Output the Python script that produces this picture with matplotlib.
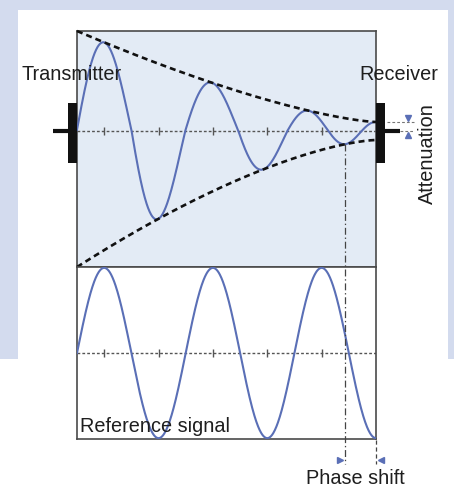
import numpy as np
import matplotlib
matplotlib.use("Agg")
import matplotlib.pyplot as plt
from matplotlib.patches import Rectangle

plt.rcParams["font.family"] = ["Liberation Sans", "DejaVu Sans"]
plt.rcParams["lines.scale_dashes"] = False

# ---- signal description (x measured in cycles of the reference signal) ----
panel_length = 2.75                      # cycles shown across both panels
tick_positions = [0.25, 0.75, 1.25, 1.75, 2.25]

# received wave: positions of its extrema and the phase (in cycles) reached there
recv_pos = [0.0, 0.25, 0.75, 1.25, 1.70, 2.15, 2.465, 2.75]
recv_phase = [0.0, 0.25, 0.75, 1.25, 1.75, 2.25, 2.75, 3.25]

# attenuation envelope: amplitude at transmitter, at receiver, curvature
upper_env = (1.00, 0.09, 1.4)
lower_env = (1.36, 0.09, 1.5)

ref_amplitude = 1.0

labels = {
    "tx": "Transmitter",
    "rx": "Receiver",
    "att": "Attenuation",
    "ref": "Reference signal",
    "phase": "Phase shift",
}

W, H = 454, 488
BG = "#d3dbee"
WAVE = "#5a6fb6"
EDGE = "#4a4a4a"
TXT = "#1e1e1e"

fig = plt.figure(figsize=(W / 100, H / 100), dpi=100)

# background layer in pixel coordinates
bg = fig.add_axes([0, 0, 1, 1], zorder=0)
bg.set_xlim(0, W)
bg.set_ylim(H, 0)
bg.axis("off")
bg.add_patch(Rectangle((0, 0), W, 360, color=BG, lw=0))
bg.add_patch(Rectangle((18, 10), 430, 360, color="white", lw=0))
bg.add_patch(Rectangle((0, 359), W, H - 359, color="white", lw=0))


def panel(top, bottom):
    return fig.add_axes([77 / W, (H - bottom) / H, 299 / W, (bottom - top) / H], zorder=2)


ax_top = panel(31, 267)
ax_bot = panel(267, 439)

for ax in (ax_top, ax_bot):
    ax.set_xlim(0, panel_length)
    ax.set_xticks([])
    ax.set_yticks([])
    for s in ax.spines.values():
        s.set_color(EDGE)
        s.set_linewidth(1.2)

ax_top.set_facecolor("#e3ebf5")
ax_top.set_ylim(-lower_env[0], upper_env[0])
ax_bot.set_facecolor("white")
ax_bot.set_ylim(-1.01 * ref_amplitude, 1.01 * ref_amplitude)

# foreground layer in pixel coordinates for blocks, marks and labels
fg = fig.add_axes([0, 0, 1, 1], zorder=5)
fg.set_xlim(0, W)
fg.set_ylim(H, 0)
fg.axis("off")
fg.patch.set_alpha(0)

x = np.linspace(0, panel_length, 800)


def envelope(params, xx):
    a0, a1, p = params
    t = xx / panel_length
    return a1 + (a0 - a1) * (1 - t) ** p


# received (attenuated, phase-shifted) wave
coef = np.polyfit(recv_pos, recv_phase, 4)
phase = np.polyval(coef, x)
s = np.sin(2 * np.pi * phase)
up = envelope(upper_env, x)
lo = envelope(lower_env, x)
recv = np.where(s >= 0, up * s, lo * s)

for ax in (ax_top, ax_bot):
    ax.plot([0, panel_length], [0, 0], color="#555555", lw=1.0, dashes=(2.0, 1.5), zorder=2)
    ax.plot(tick_positions, [0] * len(tick_positions), ls="none", marker="|",
            ms=6, mew=1.0, color="#555555", zorder=2)

ax_top.plot(x, recv, color=WAVE, lw=1.5, zorder=3)
ax_top.plot(x, up, color="#111111", lw=1.9, dashes=(4.3, 2.9), zorder=4, clip_on=False)
ax_top.plot(x, -lo, color="#111111", lw=1.9, dashes=(4.3, 2.9), zorder=4, clip_on=False)

# reference signal
ax_bot.plot(x, ref_amplitude * np.sin(2 * np.pi * x), color=WAVE, lw=1.5, zorder=3)


def to_px(ax, xx, yy):
    p = ax.transData.transform((xx, yy))
    return fg.transData.inverted().transform(p)


# transmitter and receiver blocks
for x0, stub in ((68, (53, 68)), (376, (385, 400))):
    fg.add_patch(Rectangle((x0, 103), 9, 60, color="#111111", lw=0))
    fg.plot(stub, [131, 131], color="#111111", lw=3.0, solid_capstyle="butt")

# attenuation marks at the receiver
_, y_end_up = to_px(ax_top, panel_length, upper_env[1])
_, y_axis = to_px(ax_top, panel_length, 0)
fg.plot([387, 414], [y_end_up, y_end_up], color="#777777", lw=0.8, dashes=(2, 1.5))
fg.plot([400, 414], [y_axis, y_axis], color="#777777", lw=0.8, dashes=(2, 1.5))
fg.plot([408], [y_end_up - 4], marker="v", ms=4.5, color=WAVE, ls="none")
fg.plot([408], [y_axis + 4], marker="^", ms=4.5, color=WAVE, ls="none")

# phase shift marks
trough_x = recv_pos[-2]
px_trough, py_trough = to_px(ax_top, trough_x, -envelope(lower_env, trough_x))
px_end, _ = to_px(ax_top, panel_length, 0)
fg.plot([px_trough, px_trough], [py_trough, 464], color="#444444", lw=0.9,
        ls=(0, (5, 2, 1, 2)))
fg.plot([px_end, px_end], [440, 464], color="#444444", lw=0.9, ls=(0, (3, 2)))
fg.plot([px_trough - 5], [460], marker=">", ms=4.5, color=WAVE, ls="none")
fg.plot([px_end + 5], [460], marker="<", ms=4.5, color=WAVE, ls="none")

# text labels
fs = 14.3
fg.text(22, 79.5, labels["tx"], fontsize=fs, color=TXT, va="baseline", ha="left")
fg.text(359, 79.5, labels["rx"], fontsize=fs, color=TXT, va="baseline", ha="left")
fg.text(427.5, 153.5, labels["att"], fontsize=fs, color=TXT, va="center", ha="center",
        rotation=90)
fg.text(80, 432, labels["ref"], fontsize=fs, color=TXT, va="baseline", ha="left")
fg.text(306, 483.5, labels["phase"], fontsize=fs, color=TXT, va="baseline", ha="left")

fig.savefig("out.png", dpi=100)
